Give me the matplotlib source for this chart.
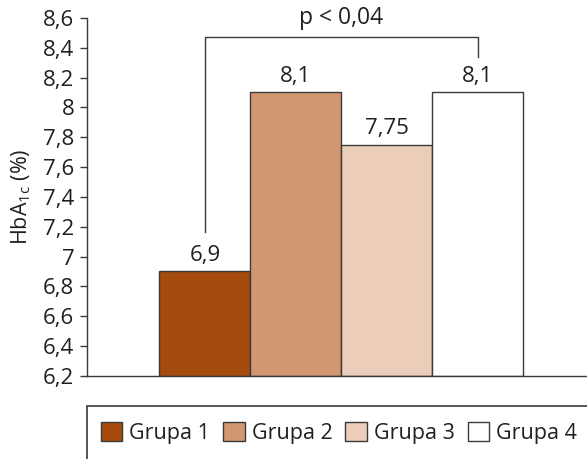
import matplotlib.pyplot as plt
from matplotlib.patches import Rectangle

# Mean HbA1c per group
groups = ["Grupa 1", "Grupa 2", "Grupa 3", "Grupa 4"]
hba1c = [6.9, 8.1, 7.75, 8.1]
value_labels = ["6,9", "8,1", "7,75", "8,1"]
colors = ["#A54B0E", "#D19770", "#EBCDB9", "#FFFFFF"]

y_ticks = [6.2, 6.4, 6.6, 6.8, 7.0, 7.2, 7.4, 7.6, 7.8, 8.0, 8.2, 8.4, 8.6]
y_tick_labels = ["6,2", "6,4", "6,6", "6,8", "7", "7,2", "7,4", "7,6",
                 "7,8", "8", "8,2", "8,4", "8,6"]

p_text = "p < 0,04"

plt.rcParams["font.family"] = ["Open Sans", "DejaVu Sans"]
TEXT = "#231f20"
EDGE = "#3a3a3a"

fig = plt.figure(figsize=(5.87, 4.59), dpi=100)
ax = fig.add_axes([0.148, 0.181, 0.852, 0.780])

x = list(range(len(groups)))
bars = ax.bar(x, [v - 6.2 for v in hba1c], bottom=6.2, width=1.0,
              color=colors, edgecolor=EDGE, linewidth=1.0)

for xi, v, lab in zip(x, hba1c, value_labels):
    ax.annotate(lab, (xi, v), xytext=(0, 4), textcoords="offset points",
                ha="center", va="bottom", fontsize=16, color=TEXT)

# significance bracket between group 1 and group 4
ax.plot([0, 0, 3, 3], [7.165, 8.47, 8.47, 8.34], color=EDGE, lw=1.0,
        clip_on=False)
ax.text(1.5, 8.52, p_text, ha="center", va="bottom", fontsize=16.5,
        color=TEXT, clip_on=False)

ax.set_xlim(-1.297, 4.2)
ax.set_ylim(6.2, 8.6)
ax.set_yticks(y_ticks)
ax.set_yticklabels(y_tick_labels)
ax.set_xticks([])
ax.tick_params(axis="y", direction="out", length=5, width=1.0,
               colors=EDGE, labelcolor=TEXT, labelsize=16, pad=4)
for side in ["top", "right"]:
    ax.spines[side].set_visible(False)
for side in ["left", "bottom"]:
    ax.spines[side].set_color(EDGE)
    ax.spines[side].set_linewidth(1.0)

ax.set_ylabel(r"HbA$_{\mathregular{1c}}$ (%)", fontsize=15.5, color=TEXT,
              labelpad=7)

# legend box running off the bottom-right edge
fig.patches.append(Rectangle((87 / 587, -0.05), 1.0, (459 - 406) / 459 + 0.05,
                             transform=fig.transFigure, fill=False,
                             edgecolor=EDGE, linewidth=1.2))
leg = fig.legend(bars, groups, loc="center", bbox_to_anchor=(339 / 587, 1 - 433 / 459),
                 ncol=4, frameon=False, fontsize=15.5, handlelength=1.0,
                 handleheight=1.0, handletextpad=0.33, columnspacing=0.6,
                 borderpad=0)
for t in leg.get_texts():
    t.set_color(TEXT)

fig.savefig("out.png", dpi=100)
